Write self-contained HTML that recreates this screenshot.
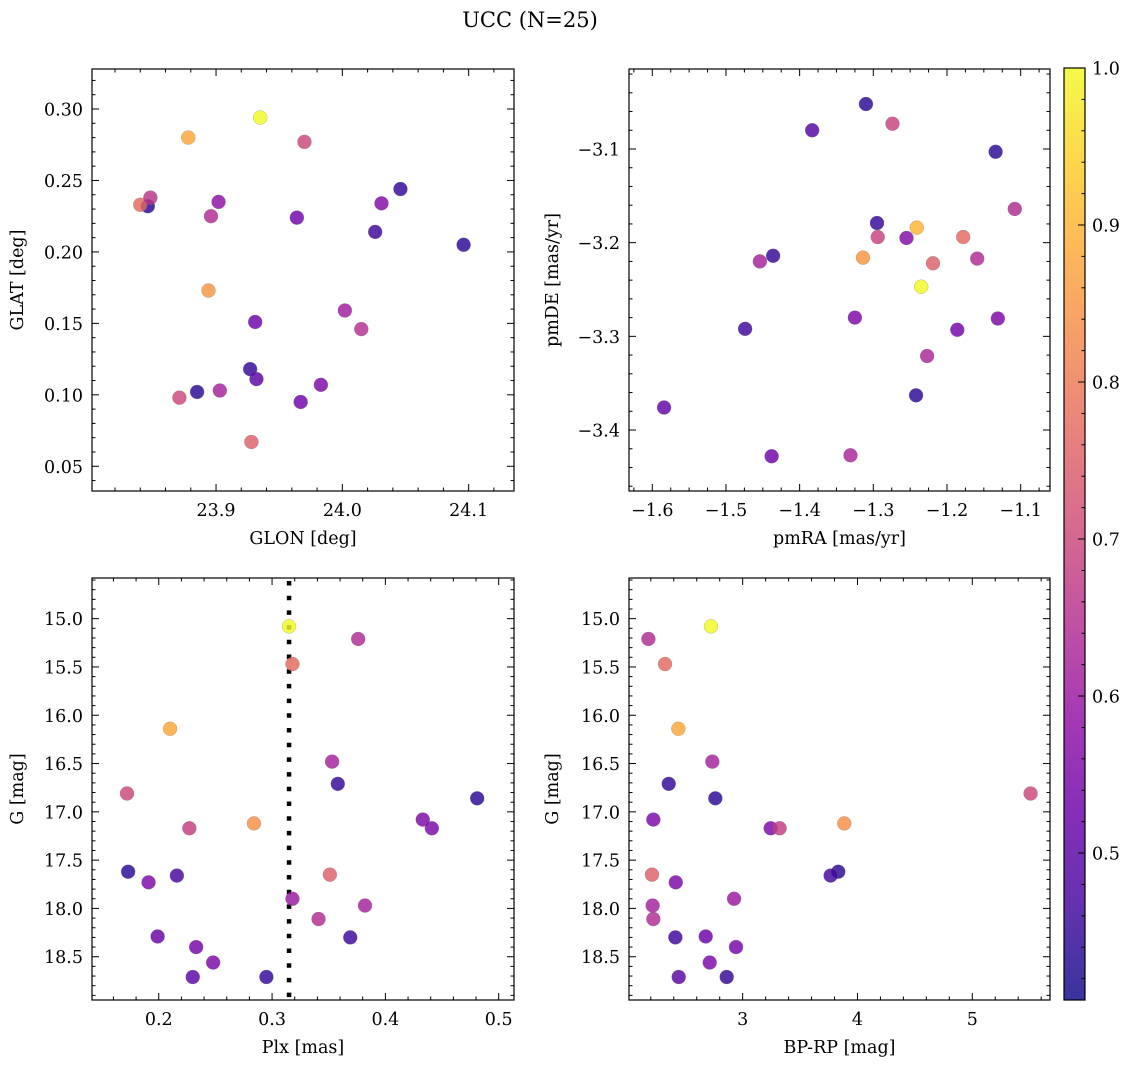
<!DOCTYPE html>
<html><head><meta charset="utf-8"><style>
html,body{margin:0;padding:0;background:#fff;}
svg{display:block;font-family:"DejaVu Serif","Liberation Serif",serif;}
</style></head><body>
<svg id="fig" width="1136" height="1068" viewBox="0 0 1136 1068" xmlns="http://www.w3.org/2000/svg">
<defs>
<linearGradient id="cbgrad" x1="0" y1="1" x2="0" y2="0">
<stop offset="0" stop-color="#0d0887"/><stop offset="0.1" stop-color="#41049d"/><stop offset="0.2" stop-color="#6a00a8"/><stop offset="0.3" stop-color="#8f0da4"/><stop offset="0.4" stop-color="#b12a90"/><stop offset="0.5" stop-color="#cc4778"/><stop offset="0.6" stop-color="#e16462"/><stop offset="0.7" stop-color="#f2844b"/><stop offset="0.8" stop-color="#fca636"/><stop offset="0.9" stop-color="#fcce25"/><stop offset="1" stop-color="#f0f921"/>
</linearGradient>
</defs>
<text x="530" y="27" font-size="21" text-anchor="middle">UCC (N=25)</text>
</svg>
<script>
// ---- data ----
const glon = [23.846,23.840,23.848,23.878,23.935,23.970,23.902,23.896,23.894,23.964,24.046,24.031,24.026,24.096,23.931,24.002,24.015,23.927,23.932,23.885,23.871,23.903,23.983,23.967,23.928];
const glat = [0.232,0.233,0.238,0.280,0.294,0.277,0.235,0.225,0.173,0.224,0.244,0.234,0.214,0.205,0.151,0.159,0.146,0.118,0.111,0.102,0.098,0.103,0.107,0.095,0.067];
const probA = [0.43,0.77,0.66,0.88,1.0,0.70,0.58,0.64,0.85,0.53,0.45,0.56,0.46,0.44,0.53,0.61,0.65,0.45,0.50,0.44,0.70,0.62,0.55,0.53,0.75];
const pmra = [-1.310,-1.274,-1.383,-1.134,-1.108,-1.295,-1.241,-1.294,-1.255,-1.178,-1.436,-1.454,-1.314,-1.219,-1.159,-1.235,-1.325,-1.131,-1.474,-1.186,-1.227,-1.242,-1.584,-1.438,-1.331];
const pmde = [-3.052,-3.073,-3.080,-3.103,-3.164,-3.179,-3.184,-3.194,-3.195,-3.194,-3.214,-3.220,-3.216,-3.222,-3.217,-3.247,-3.280,-3.281,-3.292,-3.293,-3.321,-3.363,-3.376,-3.428,-3.427];
const probB = [0.44,0.69,0.49,0.44,0.64,0.45,0.90,0.69,0.56,0.77,0.45,0.62,0.85,0.75,0.64,1.0,0.55,0.55,0.46,0.54,0.63,0.44,0.51,0.53,0.63];
const plx = [0.315,0.376,0.318,0.210,0.353,0.358,0.481,0.172,0.433,0.441,0.227,0.284,0.173,0.191,0.216,0.351,0.318,0.382,0.341,0.199,0.369,0.233,0.248,0.230,0.295];
const gmag = [15.08,15.21,15.47,16.14,16.48,16.71,16.86,16.81,17.08,17.17,17.17,17.12,17.62,17.73,17.66,17.65,17.90,17.97,18.11,18.29,18.30,18.40,18.56,18.71,18.71];
const bprp = [2.724,2.179,2.324,2.440,2.736,2.356,2.762,5.508,2.222,3.244,3.322,3.885,3.833,2.417,3.766,2.210,2.925,2.216,2.222,2.678,2.414,2.942,2.713,2.443,2.861];
const probC = [1.0,0.64,0.77,0.88,0.62,0.45,0.44,0.70,0.55,0.55,0.68,0.84,0.44,0.55,0.47,0.75,0.60,0.62,0.64,0.52,0.46,0.54,0.55,0.50,0.45];
const plxLine = 0.315;
const cbTicks = [0.5,0.6,0.7,0.8,0.9,1.0];

const NS='http://www.w3.org/2000/svg';
const svg=document.getElementById('fig');
function mk(tag,attrs,parent){const e=document.createElementNS(NS,tag);for(const k in attrs)e.setAttribute(k,attrs[k]);(parent||svg).appendChild(e);return e;}
const stops=[[13,8,135],[65,4,157],[106,0,168],[143,13,164],[177,42,144],[204,71,120],[225,100,98],[242,132,75],[252,166,54],[252,206,37],[240,249,33]];
const vmin=0.4064,vmax=1.0;
function plasma(v){let t=(v-vmin)/(vmax-vmin);t=Math.max(0,Math.min(1,t))*10;const i=Math.min(9,Math.floor(t)),f=t-i;const a=stops[i],b=stops[i+1];return 'rgb('+a.map((c,k)=>Math.round(c+(b[k]-c)*f)).join(',')+')';}
function fmt(v,d){const s=v.toFixed(d);return s.replace('-','\u2212');}
const FS=17.5;

function panel(o){
  const g=mk('g',{});
  
  
  const sx=v=>o.x0+(v-o.xmin)/(o.xmax-o.xmin)*o.w;
  const sy=o.yinv?(v=>o.y0+(v-o.ymin)/(o.ymax-o.ymin)*o.h):(v=>o.y0+o.h-(v-o.ymin)/(o.ymax-o.ymin)*o.h);
  const eps=1e-9;
  const first=(lo,st)=>Math.ceil((lo-eps)/st)*st;
  for(let v=first(o.xmin,o.xminor);v<=o.xmax+eps;v+=o.xminor){
    const major=Math.abs(v/o.xmajor-Math.round(v/o.xmajor))<1e-6;const L=major?7:3.5;const x=sx(v);
    const t1=mk('line',{x1:x,x2:x,y1:o.y0+o.h,y2:o.y0+o.h-L,stroke:'#000','stroke-width':1},g);
    
    const t2=mk('line',{x1:x,x2:x,y1:o.y0,y2:o.y0+L,stroke:'#000','stroke-width':1},g);
    
    if(major){const tl=mk('text',{x:x,y:o.y0+o.h+25,'font-size':FS,'text-anchor':'middle'},g);tl.textContent=fmt(Math.round(v/o.xmajor)*o.xmajor,o.xdec);
      }
  }
  for(let v=first(o.ymin,o.yminor);v<=o.ymax+eps;v+=o.yminor){
    const major=Math.abs(v/o.ymajor-Math.round(v/o.ymajor))<1e-6;const L=major?7:3.5;const y=sy(v);
    const t1=mk('line',{x1:o.x0,x2:o.x0+L,y1:y,y2:y,stroke:'#000','stroke-width':1},g);
    
    const t2=mk('line',{x1:o.x0+o.w,x2:o.x0+o.w-L,y1:y,y2:y,stroke:'#000','stroke-width':1},g);
    
    if(major){const tl=mk('text',{x:o.x0-9,y:y+6.5,'font-size':FS,'text-anchor':'end'},g);tl.textContent=fmt(Math.round(v/o.ymajor)*o.ymajor,o.ydec);
      }
  }
  if(o.vline!==undefined){const l=mk('line',{x1:sx(o.vline),x2:sx(o.vline),y1:o.y0,y2:o.y0+o.h,stroke:'#000','stroke-width':4.5,'stroke-dasharray':'4.5 10.2','stroke-dashoffset':'-3'},g);
    }
  for(let i=0;i<o.xs.length;i++){
    const c=mk('circle',{cx:sx(o.xs[i]),cy:sy(o.ys[i]),r:7,fill:plasma(o.cs[i]),'fill-opacity':0.82,stroke:'#777','stroke-width':0.4,'stroke-opacity':0.6},g);
    
    
  }
  const fr=mk('rect',{x:o.x0,y:o.y0,width:o.w,height:o.h,fill:'none',stroke:'#000','stroke-width':1.2},g);
  
  const xl=mk('text',{x:o.x0+o.w/2,y:o.y0+o.h+53,'font-size':FS,'text-anchor':'middle'},g);xl.textContent=o.xlabel;
  
  const yx=o.ylx,yy=o.y0+o.h/2;
  const yl=mk('text',{x:yx,y:yy,'font-size':FS,'text-anchor':'middle',transform:'rotate(-90 '+yx+' '+yy+')'},g);yl.textContent=o.ylabel;
  
}
panel({name:'glon-glat-panel',x0:92,y0:69,w:422,h:422,xmin:23.8018,xmax:24.1359,ymin:0.0327,ymax:0.328,xmajor:0.1,xminor:0.02,ymajor:0.05,yminor:0.01,xdec:1,ydec:2,xs:glon,ys:glat,cs:probA,xlabel:'GLON [deg]',ylabel:'GLAT [deg]',ylx:23});
panel({name:'pm-panel',x0:629,y0:69,w:421,h:422,xmin:-1.6316,xmax:-1.0602,ymin:-3.4651,ymax:-3.0146,xmajor:0.1,xminor:0.025,ymajor:0.1,yminor:0.02,xdec:1,ydec:1,xs:pmra,ys:pmde,cs:probB,xlabel:'pmRA [mas/yr]',ylabel:'pmDE [mas/yr]',ylx:558});
panel({name:'plx-g-panel',x0:92,y0:578,w:422,h:422,xmin:0.1411,xmax:0.5135,ymin:14.579,ymax:18.948,yinv:true,xmajor:0.1,xminor:0.02,ymajor:0.5,yminor:0.1,xdec:1,ydec:1,xs:plx,ys:gmag,cs:probC,xlabel:'Plx [mas]',ylabel:'G [mag]',ylx:23,vline:plxLine});
panel({name:'cmd-panel',x0:629,y0:578,w:421,h:422,xmin:2.010,xmax:5.677,ymin:14.579,ymax:18.948,yinv:true,xmajor:1,xminor:0.2,ymajor:0.5,yminor:0.1,xdec:0,ydec:1,xs:bprp,ys:gmag,cs:probC,xlabel:'BP-RP [mag]',ylabel:'G [mag]',ylx:558});

// colorbar
const cb=mk('g',{});


const cbx=1064,cbw=21,cbt=68,cbb=1000;
const cbv=v=>cbt+(vmax-v)/(vmax-vmin)*(cbb-cbt);
const cr=mk('rect',{x:cbx,y:cbt,width:cbw,height:cbb-cbt,fill:'url(#cbgrad)','fill-opacity':0.82,stroke:'#000','stroke-width':1.2},cb);

for(let k=0;k<=30;k++){const v=0.42+k*0.02;if(v>vmax+1e-9)break;const y=cbv(v);
  const major=Math.abs(v*10-Math.round(v*10))<1e-6;
  const t=mk('line',{x1:cbx+cbw,x2:cbx+cbw-(major?7:3.5),y1:y,y2:y,stroke:'#000','stroke-width':1},cb);
  }
cbTicks.forEach(v=>{const tl=mk('text',{x:cbx+cbw+7,y:cbv(v)+6.5,'font-size':FS},cb);tl.textContent=v.toFixed(1);
  });
</script>
</body></html>
